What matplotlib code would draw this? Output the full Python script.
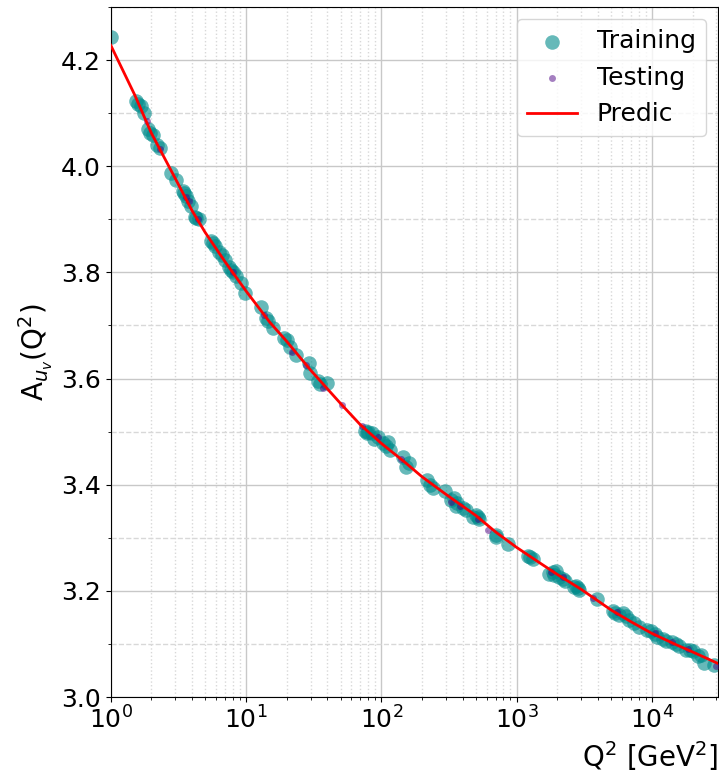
import matplotlib
matplotlib.use('Agg')
import matplotlib.pyplot as plt
import numpy as np
from matplotlib.ticker import MultipleLocator

# training points (Q2, A)
train_q2 = [1.0, 1.55, 1.66, 1.75, 1.9, 2.04, 2.3, 2.8, 3.06, 3.45, 3.63, 3.9, 4.5,
            5.55, 5.9, 6.3, 7.0, 7.8, 8.5, 9.2, 9.9, 13, 14.6, 15.9, 20, 23.4,
            29.2, 29.8, 35, 39.8, 76, 85, 89, 103, 113, 117, 144, 152, 217, 240,
            294, 344, 356, 400, 500, 530, 700, 870, 1220, 1320, 1730, 1960, 2060,
            2300, 2760, 2900, 3940, 5360, 6150, 6800, 8000, 9800, 11000, 12800,
            16000, 18000, 22000, 24500, 29000, 4.3, 3.7, 1.95, 19, 365, 480, 1850,
            2650, 5700, 14000, 20000, 8.0, 80, 700, 10500,
            1.6, 2.2, 3.5, 4.2, 5.7, 6.6, 7.5, 14, 21, 34, 78, 95, 108, 160, 230,
            330, 420, 520, 1250, 1900, 2200, 2850, 5200, 6400, 7400, 9200, 12000,
            15000, 19000, 23000]
train_a = [4.244, 4.123, 4.113, 4.100, 4.070, 4.058, 4.035, 3.987, 3.974, 3.953, 3.943,
           3.925, 3.900, 3.860, 3.850, 3.838, 3.823, 3.804, 3.794, 3.780, 3.762,
           3.734, 3.708, 3.696, 3.673, 3.645, 3.630, 3.610, 3.589, 3.592, 3.502,
           3.498, 3.487, 3.479, 3.481, 3.466, 3.453, 3.434, 3.408, 3.394, 3.389,
           3.375, 3.360, 3.357, 3.342, 3.336, 3.306, 3.289, 3.266, 3.260, 3.232,
           3.238, 3.226, 3.219, 3.209, 3.202, 3.185, 3.158, 3.158, 3.145, 3.132,
           3.125, 3.113, 3.106, 3.096, 3.089, 3.077, 3.064, 3.060, 3.902, 3.935,
           4.062, 3.676, 3.365, 3.340, 3.236, 3.207, 3.155, 3.103, 3.086, 3.800,
           3.500, 3.302, 3.118,
           4.118, 4.040, 3.950, 3.905, 3.855, 3.832, 3.810, 3.715, 3.660, 3.595,
           3.497, 3.489, 3.472, 3.440, 3.400, 3.372, 3.352, 3.340, 3.263, 3.230,
           3.222, 3.205, 3.162, 3.153, 3.140, 3.126, 3.110, 3.100, 3.088, 3.080]

# testing points
test_q2 = [1.85, 2.3, 3.6, 3.8, 4.4, 8.0, 13.5, 22, 28, 37, 51, 72, 95, 140, 330,
           380, 520, 620, 1800, 2200, 3700, 5500, 10500, 14000, 18500, 30000]
test_a = [4.085, 4.032, 3.942, 3.935, 3.900, 3.801, 3.720, 3.650, 3.625, 3.582,
          3.551, 3.510, 3.490, 3.449, 3.367, 3.360, 3.335, 3.315, 3.236, 3.226,
          3.186, 3.160, 3.121, 3.103, 3.090, 3.058]

# prediction curve
pred_q2 = [1, 1.5, 2, 3, 4, 5, 7, 10, 15, 20, 30, 50, 70, 100, 150, 200, 300, 500,
           700, 1000, 1500, 2000, 3000, 5000, 7000, 10000, 15000, 20000, 31000]
pred_a = [4.228, 4.135, 4.062, 3.977, 3.916, 3.875, 3.820, 3.765, 3.706, 3.670,
          3.616, 3.553, 3.513, 3.478, 3.442, 3.415, 3.382, 3.342, 3.311, 3.282,
          3.252, 3.231, 3.203, 3.164, 3.142, 3.120, 3.099, 3.085, 3.063]

fig = plt.figure(figsize=(7.19, 7.75), dpi=100)
ax = fig.add_axes([0.154, 0.1006, 0.845, 0.8904])

ax.scatter(train_q2, train_a, s=110, color='darkcyan', alpha=0.6, lw=0,
           label='Training', zorder=2)
ax.scatter(test_q2, test_a, s=25, color='indigo', alpha=0.5, lw=0,
           label='Testing', zorder=3)
ax.plot(pred_q2, pred_a, color='red', lw=2, label='Predic', zorder=4)

ax.set_xscale('log')
ax.set_xlim(1, 31000)
ax.set_ylim(3.0, 4.30)
ax.yaxis.set_major_locator(MultipleLocator(0.2))
ax.yaxis.set_minor_locator(MultipleLocator(0.1))

ax.grid(which='major', color='#c8c8c8', lw=1, ls='-')
ax.xaxis.grid(which='minor', color='#d8d8d8', lw=1, ls=':')
ax.yaxis.grid(which='minor', color='#d8d8d8', lw=1, ls='--')
ax.set_axisbelow(True)

ax.tick_params(axis='both', which='major', labelsize=18)
ax.set_ylabel('A$_{u_v}$(Q$^2$)', fontsize=20)
ax.set_xlabel('Q$^2$ [GeV$^2$]', fontsize=20, loc='right')

ax.legend(loc='upper right', fontsize=18)

fig.savefig('out.png', dpi=100)
